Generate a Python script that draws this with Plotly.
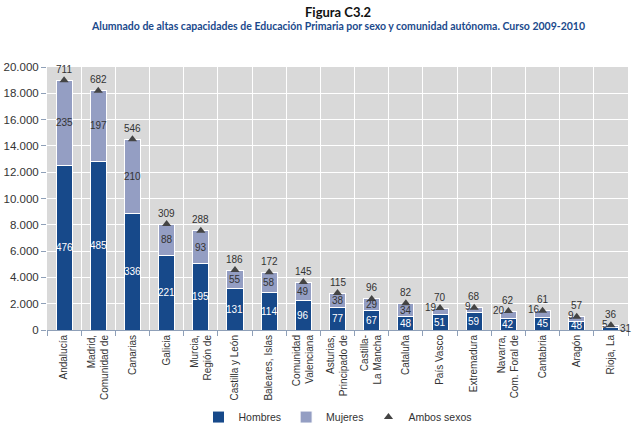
import plotly.graph_objects as go

# Comunidades autónomas (etiquetas del eje x)
comunidades = ["Andalucía", "Madrid,<br>Comunidad de", "Canarias", "Galicia",
               "Murcia,<br>Región de", "Castilla y León", "Baleares, Islas",
               "Comunidad<br>Valenciana", "Asturias,<br>Principado de",
               "Castilla-<br>La Mancha", "Cataluña", "País Vasco", "Extremadura",
               "Navarra,<br>Com. Foral de", "Cantabria", "Aragón", "Rioja, La"]

hombres_alto = [12500, 12850, 8870, 5700, 5070, 3120, 2840, 2280, 1700, 1520,
                1010, 1190, 1350, 890, 970, 680, 180]
ambos_alto = [19000, 18200, 14500, 8060, 7550, 4560, 4390, 3650, 2810, 2360,
              2030, 1670, 1700, 1440, 1470, 1010, 360]
mujeres_alto = [a - h for a, h in zip(ambos_alto, hombres_alto)]

# cifras rotuladas sobre las barras
hombres_txt = [476, 485, 336, 221, 195, 131, 114, 96, 77, 67, 48, 51, 59, 42, 45, 48, 31]
mujeres_txt = [235, 197, 210, 88, 93, 55, 58, 49, 38, 29, 34, 19, 9, 20, 16, 9, 5]
ambos_txt = [711, 682, 546, 309, 288, 186, 172, 145, 115, 96, 82, 70, 68, 62, 61, 57, 36]

azul = "#17498a"
lila = "#949ec3"

fig = go.Figure()
fig.add_trace(go.Bar(x=comunidades, y=hombres_alto, name="Hombres",
                     marker=dict(color=azul, line=dict(color="white", width=1)),
                     width=0.47))
fig.add_trace(go.Bar(x=comunidades, y=mujeres_alto, name="Mujeres",
                     marker=dict(color=lila, line=dict(color="white", width=1)),
                     width=0.47))
fig.add_trace(go.Scatter(x=comunidades, y=ambos_alto, name="Ambos sexos",
                         mode="markers",
                         marker=dict(symbol="triangle-up", size=8, color="#444444")))

anots = []
for i, c in enumerate(comunidades):
    # hombres
    if hombres_alto[i] < 500:
        anots.append(dict(x=c, y=hombres_alto[i] / 2, text=str(hombres_txt[i]),
                          xanchor="left", xshift=7, font=dict(color="#333", size=10)))
    else:
        anots.append(dict(x=c, y=hombres_alto[i] / 2, text=str(hombres_txt[i]),
                          font=dict(color="white", size=10)))
    # mujeres
    if mujeres_alto[i] < 800:
        anots.append(dict(x=c, y=ambos_alto[i], text=str(mujeres_txt[i]),
                          xanchor="right", xshift=-1, yshift=1,
                          font=dict(color="#333", size=10)))
    else:
        anots.append(dict(x=c, y=hombres_alto[i] + mujeres_alto[i] / 2,
                          text=str(mujeres_txt[i]), font=dict(color="#333", size=10)))
    # ambos sexos
    anots.append(dict(x=c, y=ambos_alto[i], text=str(ambos_txt[i]), yshift=11,
                      font=dict(color="#333", size=10)))
for a in anots:
    a.update(showarrow=False, xref="x", yref="y")

# títulos
anots.append(dict(text="<b>Figura C3.2</b>", x=0.5, y=1.209, xref="paper", yref="paper",
                  showarrow=False, yanchor="middle",
                  font=dict(family="Lato, sans-serif", size=13, color="#111")))
anots.append(dict(text="<b>Alumnado de altas capacidades de Educación Primaria por sexo y "
                       "comunidad autónoma. Curso 2009-2010</b>",
                  x=0.5, y=1.156, xref="paper", yref="paper", showarrow=False,
                  yanchor="middle", font=dict(family="Lato, sans-serif", size=10.5,
                                              color="#1b4a8c")))

fig.update_layout(
    barmode="stack",
    width=640, height=431,
    margin=dict(l=47, r=12, t=67, b=101, autoexpand=False),
    paper_bgcolor="white",
    plot_bgcolor="#d9d9d9",
    font=dict(family="Liberation Sans, Arial, sans-serif", size=11, color="#333"),
    separators=",.",
    annotations=anots,
    legend=dict(orientation="h", x=0.5, xanchor="center", y=-0.331, yanchor="middle",
                font=dict(size=10.5, color="#333"), traceorder="normal",
                itemwidth=30),
    showlegend=True,
)
fig.update_xaxes(range=[-0.5, len(comunidades) - 0.5], tickson="boundaries",
                 tickangle=-90, showgrid=True, gridcolor="white",
                 gridwidth=1, ticks="outside", ticklen=5, tickcolor="#8fa0b8",
                 showline=True, linecolor="#8fa0b8", automargin=False,
                 tickfont=dict(size=10, color="#333"))
fig.update_yaxes(range=[0, 20000], dtick=2000, tickformat=",d", showgrid=True,
                 gridcolor="white", gridwidth=1, ticks="outside", ticklen=5,
                 tickcolor="#8fa0b8", zeroline=False, automargin=False,
                 tickfont=dict(size=11.5, color="#333"))

fig.write_html("out.html", config={"responsive": False, "displayModeBar": False},
               post_script="document.body.style.margin='0';")
